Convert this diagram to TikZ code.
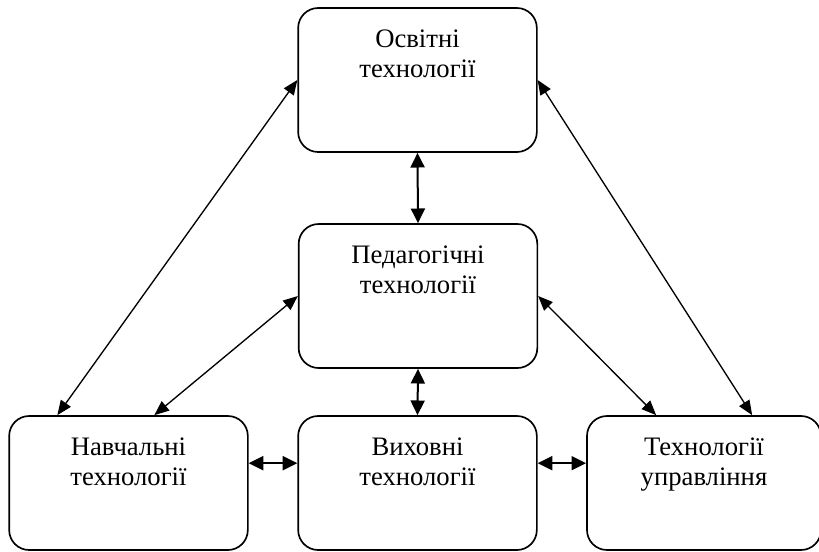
\documentclass[tikz,border=0pt]{standalone}
\usepackage{fontspec}
\setmainfont{Liberation Serif}
\usepackage{tikz}
\usetikzlibrary{arrows.meta,positioning}
\tikzstyle{techbox} = [draw, line width=1.25pt, rounded corners=15pt, minimum width=179pt, minimum height=108pt, inner sep=0pt]
\tikzstyle{techlabel} = [inner sep=0pt, align=center, font=\fontsize{20pt}{22.5pt}\selectfont]
\tikzstyle{link} = [line width=1pt, {Triangle[length=11pt,width=9pt]}-{Triangle[length=11pt,width=9pt]}]
\tikzstyle{shortlink} = [line width=1.5pt, {Triangle[length=11pt,width=10.5pt]}-{Triangle[length=11pt,width=10.5pt]}]

\begin{document}
\begin{tikzpicture}[x=0.75pt, y=-0.75pt]
\useasboundingbox (0,0) rectangle (819,551);
\clip (0,0) rectangle (819,551);

% Boxes
\node[techbox] (osv) at (417.5,80) {};
\node[techbox] (ped) at (418,296) {};
\node[techbox, minimum height=100.5pt] (nav) at (128.5,483) {};
\node[techbox, minimum height=100.5pt] (vyh) at (417.5,483) {};
\node[techbox, minimum height=100.5pt, minimum width=175.5pt] (upr) at (704,483) {};

% Texts
\node[techlabel, below=16.7pt of osv.north] (osvT) {Освітні\\технології};
\node[techlabel, below=16.7pt of ped.north] (pedT) {Педагогічні\\технології};
\node[techlabel, below=16.7pt of nav.north] (navT) {Навчальні\\технології};
\node[techlabel, below=16.7pt of vyh.north] (vyhT) {Виховні\\технології};
\node[techlabel, below=16.7pt of upr.north] (uprT) {Технології\\управління};

% Vertical and horizontal links
\draw[shortlink] (osv.south) -- (ped.north);
\draw[shortlink] (ped.south) -- (vyh.north);
\draw[shortlink] ([yshift=-36pt]nav.north east) -- ([yshift=-36pt]vyh.north west);
\draw[shortlink] ([yshift=-36pt]vyh.north east) -- ([yshift=-36pt]upr.north west);

% Diagonal links
\draw[link] (osv.west) -- ([xshift=36.75pt]nav.north west);
\draw[link] (ped.west) -- ([xshift=109.5pt]nav.north west);
\draw[link] (osv.east) -- ([xshift=124.5pt]upr.north west);
\draw[link] (ped.east) -- ([xshift=52.5pt]upr.north west);
\end{tikzpicture}
\end{document}
